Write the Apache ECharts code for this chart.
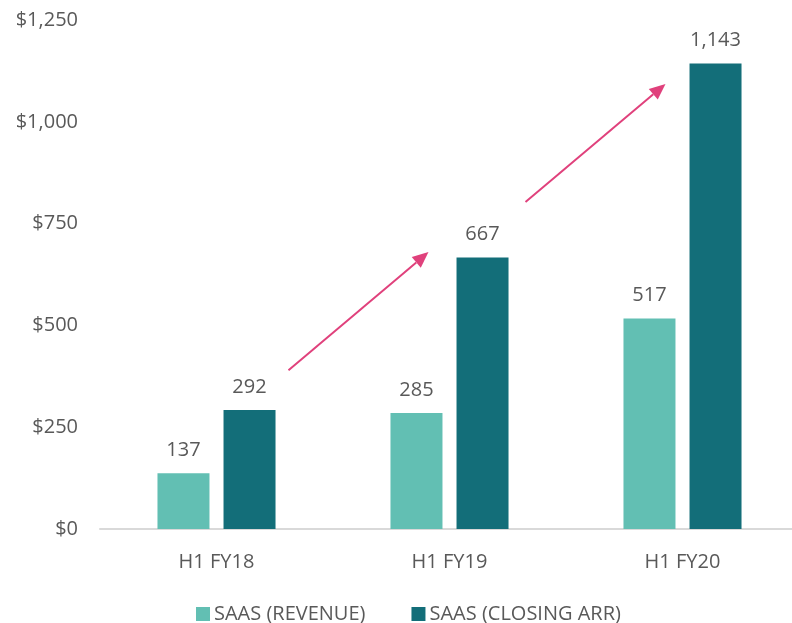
<!DOCTYPE html>
<html>
<head>
<meta charset="UTF-8">
<script src="https://cdn.jsdelivr.net/npm/echarts@6/dist/echarts.min.js"></script>
<style>
  body { margin: 0; background: #fff; }
  #chart { width: 792px; height: 623px; }
</style>
</head>
<body>
<div id="chart"></div>
<script>
  var categories = ['H1 FY18', 'H1 FY19', 'H1 FY20'];
  var revenue = [137, 285, 517];
  var closingArr = [292, 667, 1143];
  var yTicks = [0, 250, 500, 750, 1000, 1250];

  var txt = '#595959';
  var font = "'Open Sans', sans-serif";

  function fmt(v) { return v.toLocaleString('en-US'); }

  var chart = echarts.init(document.getElementById('chart'));
  chart.setOption({
    animation: false,
    textStyle: { fontFamily: font },
    grid: { left: 100, width: 699, top: 20, bottom: 94, outerBoundsMode: 'none', containLabel: false },
    legend: {
      top: 599,
      left: 191,
      itemWidth: 14, itemHeight: 14, itemGap: 46,
      icon: 'rect',
      textStyle: { color: txt, fontSize: 20, fontFamily: font, padding: [0, 0, 0, -1] },
      data: ['SAAS (REVENUE)', 'SAAS (CLOSING ARR)']
    },
    xAxis: {
      type: 'category',
      data: categories,
      axisTick: { show: false },
      axisLine: { lineStyle: { color: '#d9d9d9', width: 2 } },
      axisLabel: { color: txt, fontSize: 20, margin: 23 }
    },
    yAxis: {
      type: 'value',
      min: yTicks[0], max: yTicks[yTicks.length - 1], interval: 250,
      splitLine: { show: false },
      axisLabel: { color: txt, fontSize: 20, margin: 22, formatter: function (v) { return '$' + fmt(v); } }
    },
    series: [
      {
        name: 'SAAS (REVENUE)', type: 'bar', data: revenue,
        barWidth: 52, barGap: '27%',
        itemStyle: { color: '#62bfb3' },
        label: { show: true, position: 'top', distance: 13, color: txt, fontSize: 20, formatter: function (p) { return fmt(p.value); } }
      },
      {
        name: 'SAAS (CLOSING ARR)', type: 'bar', data: closingArr,
        barWidth: 52,
        itemStyle: { color: '#136e79' },
        label: { show: true, position: 'top', distance: 13, color: txt, fontSize: 20, formatter: function (p) { return fmt(p.value); } }
      }
    ]
  });

  // growth arrows between groups
  var arrows = [
    { from: [0, 72, 390], to: [1, -21, 680] },
    { from: [1, 76, 803], to: [2, -17, 1093] }
  ];
  var pink = '#e0417c';
  var graphics = [];
  arrows.forEach(function (a) {
    var p1 = chart.convertToPixel({ gridIndex: 0 }, [a.from[0], a.from[2]]);
    var p2 = chart.convertToPixel({ gridIndex: 0 }, [a.to[0], a.to[2]]);
    var x1 = p1[0] + a.from[1], y1 = p1[1];
    var x2 = p2[0] + a.to[1], y2 = p2[1];
    var ang = Math.atan2(y2 - y1, x2 - x1);
    var len = 16, half = 7;
    var bx = x2 - len * Math.cos(ang), by = y2 - len * Math.sin(ang);
    graphics.push({
      type: 'line',
      shape: { x1: x1, y1: y1, x2: bx, y2: by },
      style: { stroke: pink, lineWidth: 2 }
    });
    graphics.push({
      type: 'polygon',
      shape: { points: [
        [x2, y2],
        [bx + half * Math.sin(ang), by - half * Math.cos(ang)],
        [bx - half * Math.sin(ang), by + half * Math.cos(ang)]
      ] },
      style: { fill: pink }
    });
  });
  chart.setOption({ graphic: graphics });
</script>
</body>
</html>
